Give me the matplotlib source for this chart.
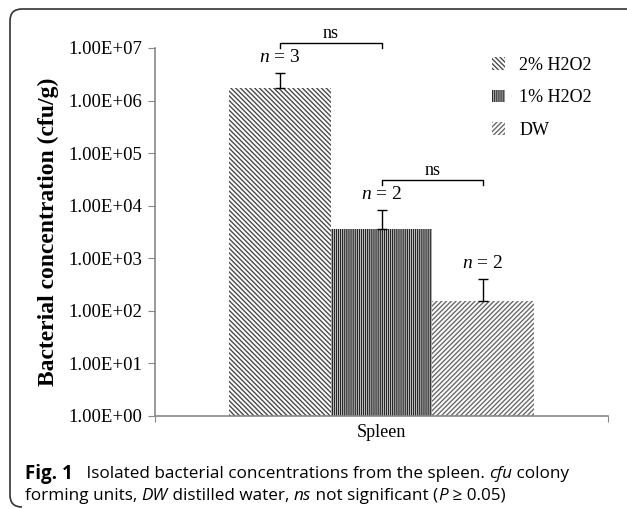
import matplotlib
matplotlib.use("Agg")
import matplotlib.pyplot as plt
from matplotlib.ticker import FuncFormatter, FixedLocator
from matplotlib.patches import PathPatch
from matplotlib.path import Path

plt.rcParams["font.family"] = "Liberation Serif"
plt.rcParams["hatch.linewidth"] = 1.0
plt.rcParams["mathtext.fontset"] = "custom"
plt.rcParams["mathtext.it"] = "Liberation Serif:italic"
plt.rcParams["mathtext.rm"] = "Liberation Serif"

# data
groups = ["2% H2O2", "1% H2O2", "DW"]
means = [1.75e6, 3.6e3, 1.55e2]
errors = [1.6e6, 4.6e3, 2.5e2]
n_labels = ["3", "2", "2"]
yticks = [1e0, 1e1, 1e2, 1e3, 1e4, 1e5, 1e6, 1e7]
category = "Spleen"

hatches = ["\\" * 7, "|" * 8, "/" * 7]
hatch_colors = ["#4a4a4a", "#262626", "#6a6a6a"]

fig = plt.figure(figsize=(6.27, 5.09), dpi=100)
ax = fig.add_axes([155 / 627, 1 - 416 / 509, 453 / 627, 368 / 509])

width = 0.224
xs = [0.5 + (i - 1) * width for i in range(len(groups))]
for x, m, e, h, c, g in zip(xs, means, errors, hatches, hatch_colors, groups):
    ax.bar(x, m, width=width, bottom=1, color="white", edgecolor=c,
           hatch=h, linewidth=0, label=g)
    ax.errorbar(x, m, yerr=[[0], [e]], fmt="none", ecolor="black",
                elinewidth=1, capsize=3.5, capthick=1)

ax.set_yscale("log")
ax.set_ylim(1, 1e7)
ax.set_xlim(0, 1)
ax.yaxis.set_major_locator(FixedLocator(yticks))
ax.yaxis.set_minor_locator(FixedLocator([]))
ax.yaxis.set_major_formatter(FuncFormatter(lambda v, p: f"{v:.2E}"))
ax.tick_params(axis="y", direction="out", length=5, color="#888888",
               labelsize=13.5, pad=4)
ax.set_xticks([0, 1])
ax.set_xticklabels(["", ""])
ax.tick_params(axis="x", direction="out", length=4, color="#888888")
ax.set_xticks([0.5], minor=True)
ax.set_xticklabels([category], minor=True)
ax.tick_params(axis="x", which="minor", length=0, labelsize=13, pad=6)

for s in ["top", "right"]:
    ax.spines[s].set_visible(False)
for s in ["left", "bottom"]:
    ax.spines[s].set_color("#888888")
    ax.spines[s].set_linewidth(1.2)

ax.set_ylabel("Bacterial concentration (cfu/g)", fontsize=17,
              fontweight="bold", labelpad=7)

# n labels above error bars
tops = [m + e for m, e in zip(means, errors)]
for x, t, lab in zip(xs, tops, n_labels):
    ax.annotate(f"$n$ = {lab}", (x, t), xytext=(0, 11),
                textcoords="offset points", ha="center", va="center",
                fontsize=14)

# significance brackets
for i, j in [(0, 1), (1, 2)]:
    yb = max(tops[i], tops[j]) * 10 ** (30 / 52.6)
    ydn = yb / 10 ** (5 / 52.6)
    ax.plot([xs[i], xs[i], xs[j], xs[j]], [ydn, yb, yb, ydn], color="black",
            lw=1, clip_on=False)
    ax.annotate("ns", ((xs[i] + xs[j]) / 2, yb), xytext=(0, 7),
                textcoords="offset points", ha="center", va="center",
                fontsize=13, annotation_clip=False)

leg = ax.legend(loc="upper right", bbox_to_anchor=(1.0, 1.02), frameon=False,
                fontsize=13, handlelength=0.7, handleheight=0.7,
                handletextpad=0.8, labelspacing=0.85)

# caption, built from runs so the italic words use the caption font
cap_font = "Open Sans"
renderer = fig.canvas.get_renderer()


def draw_runs(x0, y0, runs):
    x = x0 / 627
    for txt, style, weight, size in runs:
        t = fig.text(x, 1 - y0 / 509, txt, fontfamily=cap_font,
                     fontstyle=style, fontweight=weight, fontsize=size,
                     va="center")
        bb = t.get_window_extent(renderer)
        x += bb.width / 627


fs = 12.3
draw_runs(25, 474, [
    ("Fig. 1", "normal", "bold", 13.5),
    ("   Isolated bacterial concentrations from the spleen. ", "normal", "normal", fs),
    ("cfu", "italic", "normal", fs),
    (" colony", "normal", "normal", fs),
])
draw_runs(25, 496, [
    ("forming units, ", "normal", "normal", fs),
    ("DW", "italic", "normal", fs),
    (" distilled water, ", "normal", "normal", fs),
    ("ns", "italic", "normal", fs),
    (" not significant (", "normal", "normal", fs),
    ("P", "italic", "normal", fs),
    (" \u2265 0.05)", "normal", "normal", fs),
])

# rounded frame on left and top (pixel coords from the top-left)
verts = [(627, 9), (22, 9), (10, 9), (10, 21), (10, 495),
         (10, 507), (22, 507)]
codes = [Path.MOVETO, Path.LINETO, Path.CURVE3, Path.CURVE3, Path.LINETO,
         Path.CURVE3, Path.CURVE3]
fpath = Path([(x / 627, 1 - y / 509) for x, y in verts], codes)
fig.patches.append(PathPatch(fpath, transform=fig.transFigure,
                             facecolor="none", edgecolor="#333333", lw=1.2))

fig.savefig("out.png", dpi=100)
